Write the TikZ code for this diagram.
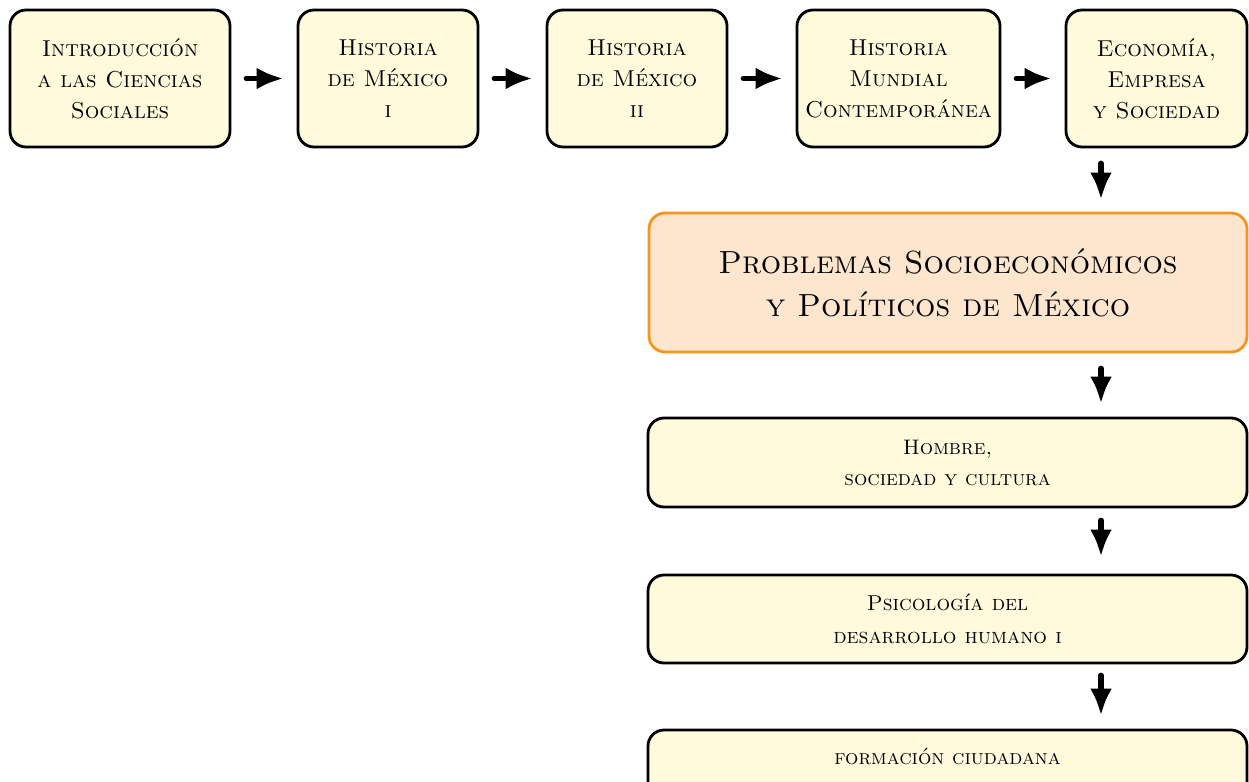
\documentclass[tikz,border=0pt]{standalone}
\usepackage{fontspec}
\usetikzlibrary{arrows.meta}
\definecolor{cream}{RGB}{255,250,220}
\definecolor{peach}{RGB}{253,230,205}
\definecolor{orangeline}{RGB}{247,148,29}
\begin{document}
\begin{tikzpicture}[x=1pt,y=-1pt,
  box/.style={draw=black, line width=2.8pt, rounded corners=16pt, fill=cream,
    align=center, inner sep=0pt, font=\scshape\fontsize{23}{31}\selectfont},
  bigbox/.style={box, draw=orangeline, fill=peach, font=\scshape\fontsize{32}{43}\selectfont},
  lowbox/.style={box, font=\scshape\fontsize{21}{31}\selectfont},
  arr/.style={line width=5.5pt, line cap=round, -{Latex[length=27pt,width=22pt]},
    shorten <=15pt, shorten >=13pt}]
\useasboundingbox (0,0) rectangle (1249,781);
\node[box, minimum width=220pt, minimum height=137pt] (a) at (120,78.5)
  {Introducción\\a las Ciencias\\Sociales};
\node[box, minimum width=180pt, minimum height=137pt] (b) at (388,78.5)
  {Historia\\de México\\i};
\node[box, minimum width=180pt, minimum height=137pt] (c) at (637,78.5)
  {Historia\\de México\\ii};
\node[box, minimum width=203pt, minimum height=137pt] (d) at (898.5,78.5)
  {Historia\\Mundial\\Contemporánea};
\node[box, minimum width=181pt, minimum height=137pt] (e) at (1156.5,78.5)
  {Economía,\\Empresa\\y Sociedad};
\node[bigbox, minimum width=598pt, minimum height=139pt] (p) at (948,282.5)
  {Problemas Socioeconómicos\\y Políticos de México};
\node[lowbox, minimum width=599pt, minimum height=89pt] (h) at (947.5,462.5)
  {Hombre,\\sociedad y cultura};
\node[lowbox, minimum width=599pt, minimum height=88pt, font=\scshape\fontsize{21.5}{33}\selectfont] (s) at (947.5,619)
  {Psicología del\\desarrollo humano i};
\node[lowbox, minimum width=599pt, minimum height=70pt, text depth=18pt] (f) at (947.5,765)
  {formación ciudadana};
\coordinate (ax) at (1101,0);
\draw[arr] (a) -- (b);
\draw[arr] (b) -- (c);
\draw[arr] (c) -- (d);
\draw[arr] (d) -- (e);
\draw[arr, shorten >=12pt] (e.south -| ax) -- (p.north -| ax);
\draw[arr] (p.south -| ax) -- (h.north -| ax);
\draw[arr, shorten <=12pt, shorten >=17pt] (h.south -| ax) -- (s.north -| ax);
\draw[arr, shorten <=11pt] (s.south -| ax) -- (f.north -| ax);
\end{tikzpicture}
\end{document}
